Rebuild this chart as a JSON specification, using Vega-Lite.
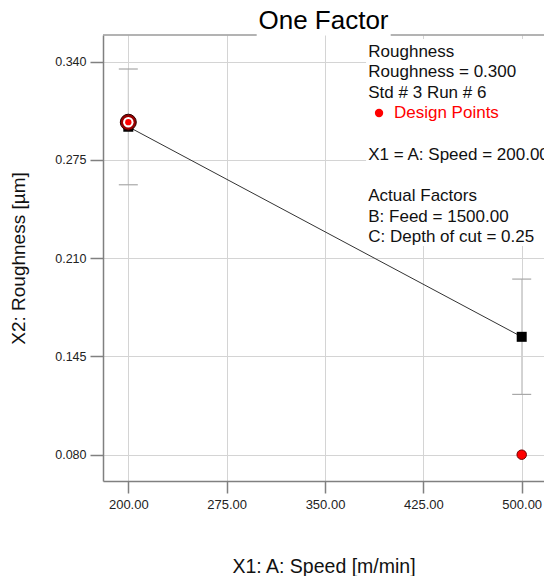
{
  "$schema": "https://vega.github.io/schema/vega-lite/v6.json",
  "width": 441,
  "height": 446,
  "autosize": "none",
  "padding": {"left": 103, "top": 35, "right": 0, "bottom": 95},
  "title": {"text": "One Factor", "fontSize": 26, "font": "Liberation Sans", "fontWeight": "normal", "color": "#000000", "offset": 0, "anchor": "middle"},
  "config": {"view": {"stroke": null}, "font": "Liberation Sans"},
  "datasets": {
    "box": [{"x": 381.3, "x2": 517, "y": 0.3551, "y2": 0.2181}],
    "frame": [{"x": 180.7, "x2": 297.9}, {"x": 400.1, "x2": 517}],
    "model": [
      {"speed": 200, "fit": 0.297, "lo": 0.2586, "hi": 0.3352},
      {"speed": 500, "fit": 0.158, "lo": 0.1199, "hi": 0.1962}
    ],
    "design": [
      {"speed": 200, "roughness": 0.300, "selected": "yes"},
      {"speed": 500, "roughness": 0.080, "selected": "no"}
    ],
    "notes": [
      {"x": 383, "y": 0.3467, "label": "Roughness"},
      {"x": 383, "y": 0.3334, "label": "Roughness = 0.300"},
      {"x": 383, "y": 0.3195, "label": "Std # 3 Run # 6"},
      {"x": 383, "y": 0.2783, "label": "X1 = A: Speed = 200.00"},
      {"x": 383, "y": 0.2514, "label": "Actual Factors"},
      {"x": 383, "y": 0.2375, "label": "B: Feed = 1500.00"},
      {"x": 383, "y": 0.2239, "label": "C: Depth of cut = 0.25"}
    ],
    "legend": [{"bx": 391.2, "tx": 402.6, "y": 0.3061, "label": "Design Points"}]
  },
  "layer": [
    {
      "data": {"name": "box"},
      "mark": {"type": "rect", "fill": "#ffffff", "stroke": null},
      "encoding": {
        "x": {
          "field": "x", "type": "quantitative",
          "scale": {"domain": [180.7, 517], "nice": false, "zero": false},
          "axis": {
            "title": "X1: A: Speed [m/min]", "values": [200, 275, 350, 425, 500], "format": ".2f",
            "grid": true, "gridColor": "#d4d4d4", "gridWidth": 1,
            "domainColor": "#808080", "domainWidth": 1.5,
            "tickColor": "#808080", "tickSize": 12, "tickWidth": 1.5,
            "labelFontSize": 13, "labelColor": "#222222", "labelPadding": 5, "labelFont": "Liberation Sans",
            "titleFontSize": 19.5, "titleFontWeight": "normal", "titlePadding": 46, "titleColor": "#111111", "titleFont": "Liberation Sans"
          }
        },
        "x2": {"field": "x2"},
        "y": {
          "field": "y", "type": "quantitative",
          "scale": {"domain": [0.0626, 0.3577], "nice": false, "zero": false},
          "axis": {
            "title": "X2: Roughness [µm]", "values": [0.08, 0.145, 0.21, 0.275, 0.34], "format": ".3f",
            "grid": true, "gridColor": "#d4d4d4", "gridWidth": 1,
            "domainColor": "#808080", "domainWidth": 1.5,
            "tickColor": "#808080", "tickSize": 13, "tickWidth": 1.5,
            "labelFontSize": 12.5, "labelColor": "#222222", "labelPadding": 4, "labelFont": "Liberation Sans",
            "titleFontSize": 19, "titleFontWeight": "normal", "titlePadding": 26, "titleColor": "#111111", "titleFont": "Liberation Sans"
          }
        },
        "y2": {"field": "y2"}
      }
    },
    {
      "data": {"name": "frame"},
      "mark": {"type": "rule", "color": "#9a9a9a", "strokeWidth": 1.5},
      "encoding": {
        "x": {"field": "x", "type": "quantitative"},
        "x2": {"field": "x2"},
        "y": {"datum": 0.3577, "type": "quantitative"}
      }
    },
    {
      "data": {"name": "model"},
      "mark": {"type": "rule", "color": "#cfcfcf", "strokeWidth": 1.2},
      "encoding": {
        "x": {"field": "speed", "type": "quantitative"},
        "y": {"field": "lo", "type": "quantitative"},
        "y2": {"field": "hi"}
      }
    },
    {
      "data": {"name": "model"},
      "mark": {"type": "tick", "orient": "horizontal", "size": 19, "thickness": 1.2, "color": "#a8a8a8", "opacity": 1},
      "encoding": {
        "x": {"field": "speed", "type": "quantitative"},
        "y": {"field": "lo", "type": "quantitative"}
      }
    },
    {
      "data": {"name": "model"},
      "mark": {"type": "tick", "orient": "horizontal", "size": 19, "thickness": 1.2, "color": "#a8a8a8", "opacity": 1},
      "encoding": {
        "x": {"field": "speed", "type": "quantitative"},
        "y": {"field": "hi", "type": "quantitative"}
      }
    },
    {
      "data": {"name": "model"},
      "mark": {"type": "line", "color": "#333333", "strokeWidth": 1},
      "encoding": {
        "x": {"field": "speed", "type": "quantitative"},
        "y": {"field": "fit", "type": "quantitative"}
      }
    },
    {
      "data": {"name": "model"},
      "mark": {"type": "point", "shape": "square", "filled": true, "size": 100, "color": "#000000", "opacity": 1},
      "encoding": {
        "x": {"field": "speed", "type": "quantitative"},
        "y": {"field": "fit", "type": "quantitative"}
      }
    },
    {
      "data": {"name": "design"},
      "transform": [{"filter": "datum.selected == 'yes'"}],
      "mark": {"type": "point", "shape": "circle", "filled": true, "size": 256, "fill": "#990000", "stroke": "#2a0000", "strokeWidth": 1, "opacity": 1},
      "encoding": {
        "x": {"field": "speed", "type": "quantitative"},
        "y": {"field": "roughness", "type": "quantitative"}
      }
    },
    {
      "data": {"name": "design"},
      "transform": [{"filter": "datum.selected == 'yes'"}],
      "mark": {"type": "point", "shape": "circle", "filled": true, "size": 110, "fill": "#ffffff", "stroke": null, "opacity": 1},
      "encoding": {
        "x": {"field": "speed", "type": "quantitative"},
        "y": {"field": "roughness", "type": "quantitative"}
      }
    },
    {
      "data": {"name": "design"},
      "transform": [{"filter": "datum.selected == 'yes'"}],
      "mark": {"type": "point", "shape": "circle", "filled": true, "size": 40, "fill": "#ff0000", "stroke": null, "opacity": 1},
      "encoding": {
        "x": {"field": "speed", "type": "quantitative"},
        "y": {"field": "roughness", "type": "quantitative"}
      }
    },
    {
      "data": {"name": "design"},
      "transform": [{"filter": "datum.selected == 'no'"}],
      "mark": {"type": "point", "shape": "circle", "filled": true, "size": 90, "fill": "#ff0000", "stroke": "#700000", "strokeWidth": 1, "opacity": 1},
      "encoding": {
        "x": {"field": "speed", "type": "quantitative"},
        "y": {"field": "roughness", "type": "quantitative"}
      }
    },
    {
      "data": {"name": "notes"},
      "mark": {"type": "text", "align": "left", "baseline": "middle", "fontSize": 17, "font": "Liberation Sans", "color": "#111111"},
      "encoding": {
        "x": {"field": "x", "type": "quantitative"},
        "y": {"field": "y", "type": "quantitative"},
        "text": {"field": "label"}
      }
    },
    {
      "data": {"name": "legend"},
      "mark": {"type": "point", "shape": "circle", "filled": true, "size": 70, "color": "#ff0000", "opacity": 1},
      "encoding": {
        "x": {"field": "bx", "type": "quantitative"},
        "y": {"field": "y", "type": "quantitative"}
      }
    },
    {
      "data": {"name": "legend"},
      "mark": {"type": "text", "align": "left", "baseline": "middle", "fontSize": 17, "font": "Liberation Sans", "color": "#ff0000"},
      "encoding": {
        "x": {"field": "tx", "type": "quantitative"},
        "y": {"field": "y", "type": "quantitative"},
        "text": {"field": "label"}
      }
    }
  ]
}
